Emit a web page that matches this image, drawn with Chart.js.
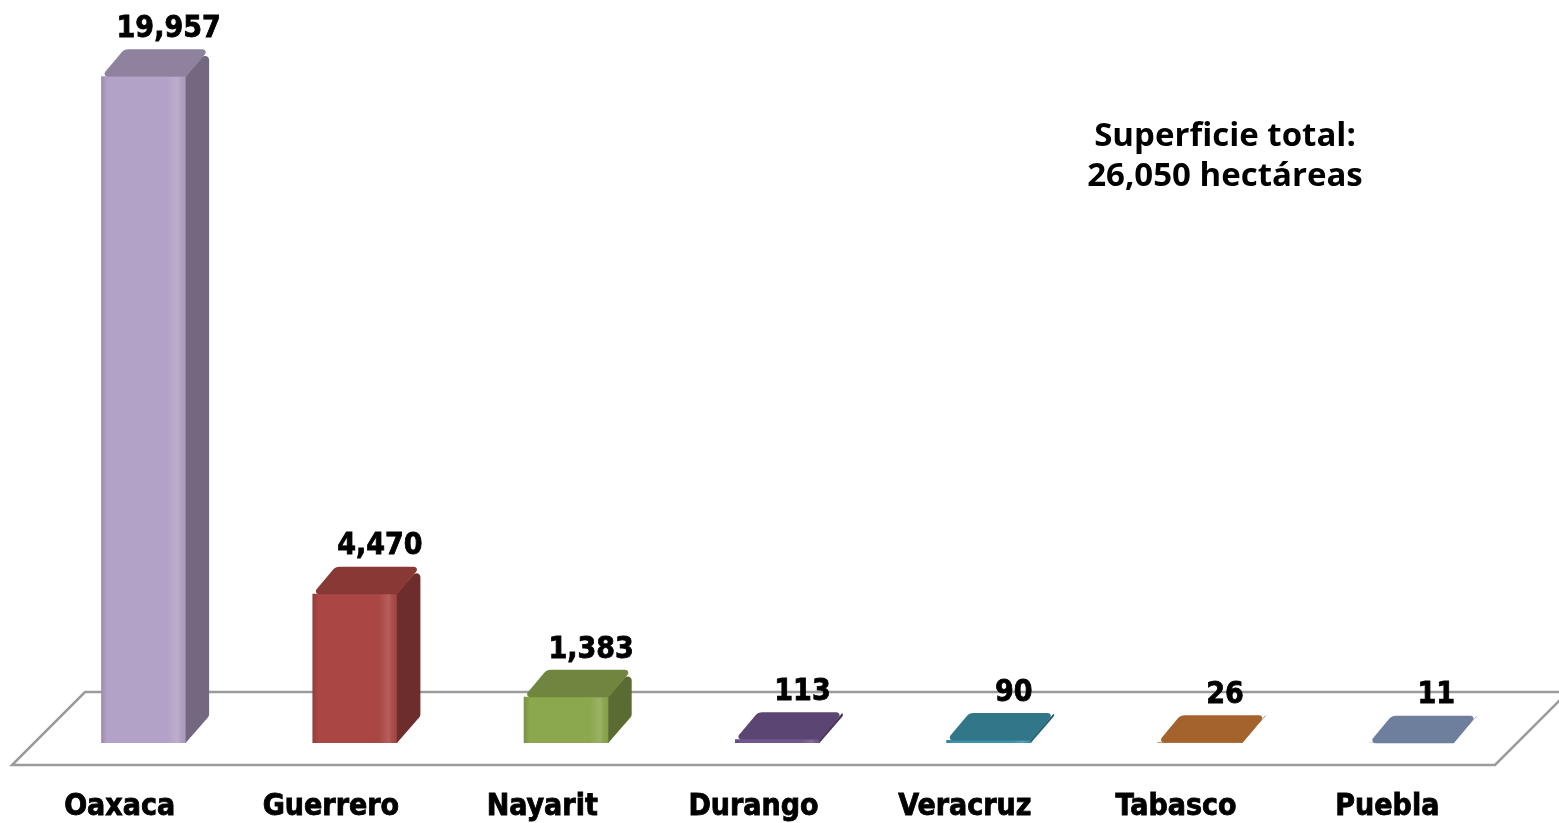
<!DOCTYPE html>
<html><head><meta charset="utf-8">
<script src="https://cdn.jsdelivr.net/npm/chart.js@4/dist/chart.umd.min.js"></script>
<style>html,body{margin:0;padding:0;background:#fff}</style>
</head><body>
<canvas id="c" width="1559" height="823"></canvas>
<script>
const categories = ['Oaxaca','Guerrero','Nayarit','Durango','Veracruz','Tabasco','Puebla'];
const hectares = [19957, 4470, 1383, 113, 90, 26, 11];
const noteLines = ['Superficie total:', '26,050 hectáreas'];
const frontColors = ['#B3A2C7','#AA4744','#8CA84E','#72568F','#3D95AB','#CD7C37','#8A9EC4'];

const DX = 23, DY = -27;
function shade(hex, f){
  const n = parseInt(hex.slice(1),16);
  const c = v => Math.min(255, Math.round(v*f));
  return 'rgb('+c((n>>16)&255)+','+c((n>>8)&255)+','+c(n&255)+')';
}
function roundPoly(ctx, pts, radii, fill){
  const n = pts.length;
  const len = (p,q)=>Math.hypot(q[0]-p[0], q[1]-p[1]);
  ctx.beginPath();
  const s = [(pts[n-1][0]+pts[0][0])/2, (pts[n-1][1]+pts[0][1])/2];
  ctx.moveTo(s[0], s[1]);
  for(let i=0;i<n;i++){
    const p = pts[(i-1+n)%n], c = pts[i], q = pts[(i+1)%n];
    const a1 = Math.atan2(p[1]-c[1], p[0]-c[0]), a2 = Math.atan2(q[1]-c[1], q[0]-c[0]);
    let th = Math.abs(a1-a2); if (th > Math.PI) th = 2*Math.PI - th;
    const tn = Math.tan(th/2);
    let r = radii[i];
    const maxT = Math.min(len(p,c), len(c,q)) * 0.48;
    if (tn > 0 && r / tn > maxT) r = maxT * tn;
    if (!(r > 0.01) || th < 0.01) { ctx.lineTo(c[0], c[1]); }
    else ctx.arcTo(c[0], c[1], q[0], q[1], r);
  }
  ctx.closePath();
  ctx.fillStyle = fill; ctx.fill();
}
const pseudo3d = {
  id:'pseudo3d',
  beforeDatasetsDraw(chart){
    const {ctx, chartArea:a} = chart;
    const fy = a.bottom + 22, by = a.bottom - 51;
    ctx.save();
    ctx.beginPath();
    ctx.moveTo(a.left-26, fy); ctx.lineTo(a.right-22, fy);
    ctx.lineTo(a.right+51, by); ctx.lineTo(a.left+47, by); ctx.closePath();
    ctx.fillStyle='#fff'; ctx.fill();
    ctx.strokeStyle='#9b9b9b'; ctx.lineWidth=2.5; ctx.stroke();
    ctx.restore();
  },
  afterDatasetsDraw(chart){
    const {ctx, chartArea:a} = chart;
    const meta = chart.getDatasetMeta(0);
    ctx.save();
    meta.data.forEach((bar, i) => {
      const {x, y, base, width} = bar.getProps(['x','y','base','width'], true);
      const l = x - width/2, r = x + width/2;
      const col = frontColors[i];
      const h = base - y;
      // front shading
      const g = ctx.createLinearGradient(l, 0, r, 0);
      g.addColorStop(0, 'rgba(0,0,0,0.14)');
      g.addColorStop(0.07, 'rgba(0,0,0,0)');
      g.addColorStop(0.78, 'rgba(255,255,255,0)');
      g.addColorStop(0.9, 'rgba(255,255,255,0.13)');
      g.addColorStop(1, 'rgba(0,0,0,0.04)');
      ctx.fillStyle = g;
      ctx.fillRect(l, y, width, h);
      // side
      roundPoly(ctx, [[r-0.5, y], [r+DX, y+DY], [r+DX, base+DY], [r-0.5, base]], [0, 4, 5, 0], shade(col, 0.64));
      // top
      roundPoly(ctx, [[l, y+0.5], [l+DX, y+DY], [r+DX, y+DY], [r, y+0.5]], [3, 9, 3, 0], shade(col, 0.8));
      // value label
      ctx.fillStyle = '#000'; ctx.strokeStyle = '#000'; ctx.lineWidth = 0.8;
      ctx.font = 'bold 30px "DejaVu Sans Condensed", "DejaVu Sans"';
      ctx.textAlign = 'center'; ctx.textBaseline = 'middle';
      const lbl = hectares[i].toLocaleString('en-US');
      ctx.fillText(lbl, x + 25, y + DY - 20);
      ctx.strokeText(lbl, x + 25, y + DY - 20);
      // category label
      ctx.fillText(categories[i], x - 24, a.bottom + 64);
      ctx.strokeText(categories[i], x - 24, a.bottom + 64);
    });
    ctx.font = 'bold 33px "Open Sans"';
    ctx.textAlign = 'center'; ctx.textBaseline = 'middle';
    ctx.fillStyle = '#000';
    noteLines.forEach((t, k) => ctx.fillText(t, 1225, 137 + k*40));
    ctx.restore();
  }
};

new Chart(document.getElementById('c'), {
  type: 'bar',
  data: {
    labels: categories,
    datasets: [{
      data: hectares,
      backgroundColor: frontColors,
      borderWidth: 0,
      barPercentage: 0.402,
      categoryPercentage: 1
    }]
  },
  options: {
    responsive: false,
    animation: false,
    devicePixelRatio: 1,
    layout: { padding: { left: 38, right: 42, top: 8, bottom: 80 } },
    plugins: { legend: { display: false }, tooltip: { enabled: false } },
    scales: {
      x: { display: false },
      y: { display: false, min: 0, max: 22000 }
    }
  },
  plugins: [pseudo3d]
});
</script>
</body></html>
